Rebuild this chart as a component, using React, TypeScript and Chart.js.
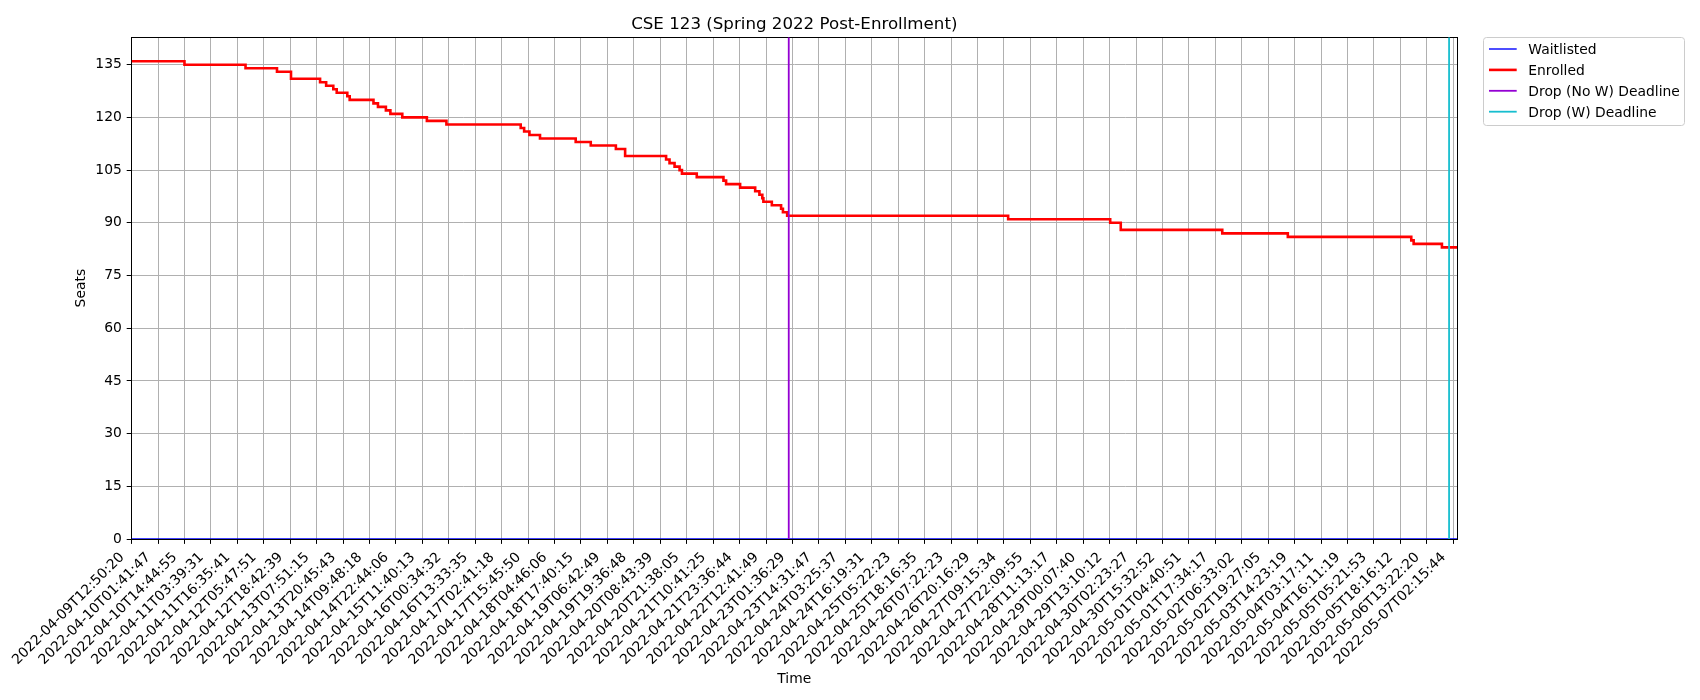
import { useEffect, useRef } from "react";
import Chart from "chart.js/auto";

// x values are sample positions in tick units (one unit = one labelled tick)
const tickLabels = [
  "2022-04-09T12:50:20", "2022-04-10T01:41:47", "2022-04-10T14:44:55", "2022-04-11T03:39:31",
  "2022-04-11T16:35:41", "2022-04-12T05:47:51", "2022-04-12T18:42:39", "2022-04-13T07:51:15",
  "2022-04-13T20:45:43", "2022-04-14T09:48:18", "2022-04-14T22:44:06", "2022-04-15T11:40:13",
  "2022-04-16T00:34:32", "2022-04-16T13:33:35", "2022-04-17T02:41:18", "2022-04-17T15:45:50",
  "2022-04-18T04:46:06", "2022-04-18T17:40:15", "2022-04-19T06:42:49", "2022-04-19T19:36:48",
  "2022-04-20T08:43:39", "2022-04-20T21:38:05", "2022-04-21T10:41:25", "2022-04-21T23:36:44",
  "2022-04-22T12:41:49", "2022-04-23T01:36:29", "2022-04-23T14:31:47", "2022-04-24T03:25:37",
  "2022-04-24T16:19:31", "2022-04-25T05:22:23", "2022-04-25T18:16:35", "2022-04-26T07:22:23",
  "2022-04-26T20:16:29", "2022-04-27T09:15:34", "2022-04-27T22:09:55", "2022-04-28T11:13:17",
  "2022-04-29T00:07:40", "2022-04-29T13:10:12", "2022-04-30T02:23:27", "2022-04-30T15:32:52",
  "2022-05-01T04:40:51", "2022-05-01T17:34:17", "2022-05-02T06:33:02", "2022-05-02T19:27:05",
  "2022-05-03T14:23:19", "2022-05-04T03:17:11", "2022-05-04T16:11:19", "2022-05-05T05:21:53",
  "2022-05-05T18:16:12", "2022-05-06T13:22:20", "2022-05-07T02:15:44",
];

const seatTicks = [0, 15, 30, 45, 60, 75, 90, 105, 120, 135];

// enrolled count changes (position where the new value starts, new value)
const enrolledAt = [
  0, 2.0, 4.31, 5.5, 6.03, 7.13, 7.36, 7.63, 7.76, 8.16, 8.25, 9.15, 9.32, 9.62, 9.79,
  10.24, 11.17, 11.91, 14.72, 14.85, 15.05, 15.45, 16.8, 17.37, 18.32, 18.67, 20.22, 20.35,
  20.54, 20.73, 20.82, 21.38, 22.39, 22.49, 23.02, 23.59, 23.75, 23.86, 23.9, 24.22, 24.57,
  24.64, 24.8, 33.16, 37.02, 37.42, 41.26, 43.74, 48.41, 48.5, 49.57, 50.14,
];
const enrolledSeats = [
  136, 135, 134, 133, 131, 130, 129, 128, 127, 126, 125, 124, 123, 122, 121,
  120, 119, 118, 117, 116, 115, 114, 113, 112, 111, 109, 108, 107,
  106, 105, 104, 103, 102, 101, 100, 99, 98, 97, 96, 95, 94,
  93, 92, 91, 90, 88, 87, 86, 85, 84, 83, 83,
];

const waitlistedAt = [0, 50.14];
const waitlistedSeats = [0, 0];

const dropNoWDeadline = 24.86;
const dropWDeadline = 49.84;

const xMax = 50.14;
const yMax = 142.8;

const FONT = "'DejaVu Sans', 'Liberation Sans', sans-serif";
const FS = 13.89;

const decor = {
  id: "decor",
  beforeDatasetsDraw(chart: any) {
    const { ctx, chartArea: a } = chart;
    const al = (p: number) => Math.round(p - 0.5) + 0.5;
    ctx.save();
    ctx.strokeStyle = "#000";
    ctx.lineWidth = 1;
    const l = al(a.left), t = al(a.top), r = al(a.right), b = al(a.bottom);
    ctx.strokeRect(l, t, r - l, b - t);
    ctx.restore();
  },
  afterDraw(chart: any) {
    const { ctx, chartArea: a } = chart;
    ctx.save();
    // title
    ctx.fillStyle = "#000";
    ctx.font = `16.67px ${FONT}`;
    ctx.textAlign = "center";
    ctx.textBaseline = "alphabetic";
    ctx.fillText("CSE 123 (Spring 2022 Post-Enrollment)", (a.left + a.right) / 2, 29);

    // legend
    ctx.beginPath();
    ctx.roundRect(1483.5, 37.5, 201, 88, 3);
    ctx.fillStyle = "rgba(255,255,255,0.8)";
    ctx.fill();
    ctx.strokeStyle = "#cccccc";
    ctx.lineWidth = 1;
    ctx.stroke();
    ctx.font = `${FS}px ${FONT}`;
    ctx.textAlign = "left";
    chart.data.datasets.forEach((ds: any, i: number) => {
      const y = 49 + i * 20.9;
      ctx.beginPath();
      ctx.moveTo(1489, y);
      ctx.lineTo(1516.7, y);
      ctx.strokeStyle = ds.borderColor;
      ctx.lineWidth = ds.borderWidth;
      ctx.stroke();
      ctx.fillStyle = "#000";
      ctx.fillText(ds.label, 1528.3, y + 5);
    });
    ctx.restore();
  },
};

const App = () => {
  const chartRef = useRef<HTMLCanvasElement>(null);
  const chartInstance = useRef<Chart | null>(null);

  useEffect(() => {
    if (!chartRef.current) return;
    if (chartInstance.current) chartInstance.current.destroy();

    const grid = {
      color: "#b0b0b0",
      lineWidth: 1,
      tickColor: "#000",
      tickLength: 4.9,
      tickWidth: 1,
    };

    chartInstance.current = new Chart(chartRef.current, {
      type: "line",
      data: {
        datasets: [
          {
            label: "Waitlisted",
            data: waitlistedAt.map((x, i) => ({ x, y: waitlistedSeats[i] })),
            borderColor: "#0000ff",
            borderWidth: 1.4,
            pointRadius: 0,
            order: 3,
          },
          {
            label: "Enrolled",
            data: enrolledAt.map((x, i) => ({ x, y: enrolledSeats[i] })),
            borderColor: "#ff0000",
            borderWidth: 2.6,
            pointRadius: 0,
            stepped: "before",
            order: 2,
          },
          {
            label: "Drop (No W) Deadline",
            data: [
              { x: dropNoWDeadline, y: 0 },
              { x: dropNoWDeadline, y: yMax },
            ],
            borderColor: "#9400d3",
            borderWidth: 1.8,
            pointRadius: 0,
            order: 1,
          },
          {
            label: "Drop (W) Deadline",
            data: [
              { x: dropWDeadline, y: 0 },
              { x: dropWDeadline, y: yMax },
            ],
            borderColor: "#17becf",
            borderWidth: 1.8,
            pointRadius: 0,
            order: 0,
          },
        ],
      },
      options: {
        responsive: false,
        animation: false,
        events: [],
        layout: { padding: { left: 0, top: 37.3, right: 243, bottom: 0 } },
        plugins: {
          legend: { display: false },
          tooltip: { enabled: false },
          title: { display: false },
        },
        scales: {
          x: {
            type: "linear",
            min: 0,
            max: xMax,
            afterFit: (s: any) => {
              s.height = 161;
            },
            afterBuildTicks: (s: any) => {
              s.ticks = tickLabels.map((_, i) => ({ value: i }));
            },
            grid,
            border: { display: false },
            ticks: {
              autoSkip: false,
              minRotation: 45,
              maxRotation: 45,
              padding: 5.5,
              labelOffset: -9.5,
              color: "#000",
              font: { family: FONT, size: FS },
              callback: (_v: any, index: number) => tickLabels[index],
            },
            title: {
              display: true,
              text: "Time",
              color: "#000",
              font: { family: FONT, size: FS },
              padding: { top: 4, bottom: 12 },
            },
          },
          y: {
            type: "linear",
            min: 0,
            max: yMax,
            afterFit: (s: any) => {
              s.width = 131.6;
            },
            afterBuildTicks: (s: any) => {
              s.ticks = seatTicks.map((v) => ({ value: v }));
            },
            grid,
            border: { display: false },
            ticks: {
              padding: 4.9,
              color: "#000",
              font: { family: FONT, size: FS },
            },
            title: {
              display: true,
              text: "Seats",
              color: "#000",
              font: { family: FONT, size: FS },
              padding: { top: 73, bottom: 0 },
            },
          },
        },
      },
      plugins: [decor],
    } as any);

    return () => {
      if (chartInstance.current) {
        chartInstance.current.destroy();
        chartInstance.current = null;
      }
    };
  }, []);

  return (
    <div style={{ position: "fixed", left: 0, top: 0, width: 1700, height: 700, background: "#fff" }}>
      <canvas ref={chartRef} width={1700} height={700} style={{ width: 1700, height: 700 }} />
    </div>
  );
};

export default App;
